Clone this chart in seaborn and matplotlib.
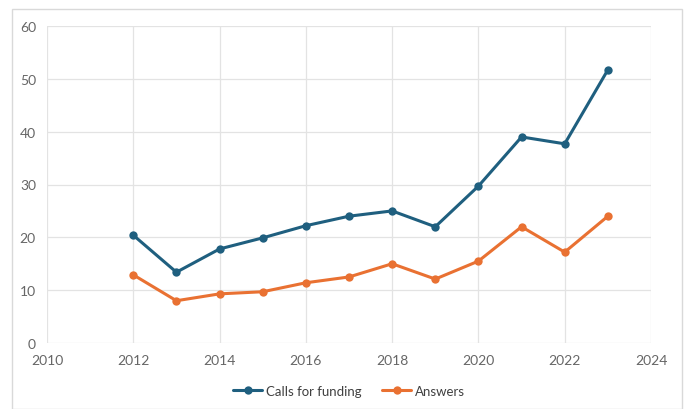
import matplotlib
matplotlib.use("Agg")
import matplotlib.pyplot as plt
import pandas as pd
import seaborn as sns
from matplotlib.patches import Rectangle

# Données
years = [2012, 2013, 2014, 2015, 2016, 2017, 2018, 2019, 2020, 2021, 2022, 2023]
calls = [20.4, 13.4, 17.8, 19.9, 22.2, 24.0, 25.0, 22.0, 29.7, 39.0, 37.7, 51.7]
answers = [12.9, 8.0, 9.3, 9.7, 11.4, 12.5, 15.0, 12.1, 15.5, 22.0, 17.2, 24.0]
series_names = ["Calls for funding", "Answers"]
colors = ["#1F5F7F", "#E97132"]

df = pd.DataFrame({
    "year": years * 2,
    "value": calls + answers,
    "series": [series_names[0]] * len(years) + [series_names[1]] * len(years),
})

sns.set_theme(style="white")
plt.rcParams["font.family"] = ["Lato", "DejaVu Sans"]

fig = plt.figure(figsize=(6.86, 4.10), dpi=100)
ax = fig.add_axes([47 / 686, 1 - 344 / 410, (651 - 47) / 686, (344 - 27) / 410])

sns.lineplot(data=df, x="year", y="value", hue="series",
             palette=colors, marker="o", markersize=6,
             markeredgewidth=0, linewidth=2.2, ax=ax)

ax.set_xlim(2010, 2024)
ax.set_ylim(0, 60)
ax.set_xticks(range(2010, 2025, 2))
ax.set_yticks(range(0, 61, 10))
ax.grid(True, color="#E3E3E3", linewidth=0.9)
ax.set_axisbelow(True)
for s in ax.spines.values():
    s.set_visible(False)
ax.tick_params(axis="both", length=0, labelsize=10, labelcolor="#666666", pad=8)
ax.set_xlabel("")
ax.set_ylabel("")

handles, labels = ax.get_legend_handles_labels()
ax.legend(handles, labels, loc="center", bbox_to_anchor=(0.5, -0.15),
          ncol=2, frameon=False, fontsize=9.5, handlelength=2.2,
          handletextpad=0.25, columnspacing=1.6, labelcolor="#404040")

# cadre extérieur
fig.patches.append(Rectangle((12 / 686, 0), (682 - 12) / 686, (410 - 10) / 410,
                             transform=fig.transFigure, fill=False,
                             edgecolor="#D9D9D9", linewidth=1))

fig.savefig("out.png", dpi=100)
